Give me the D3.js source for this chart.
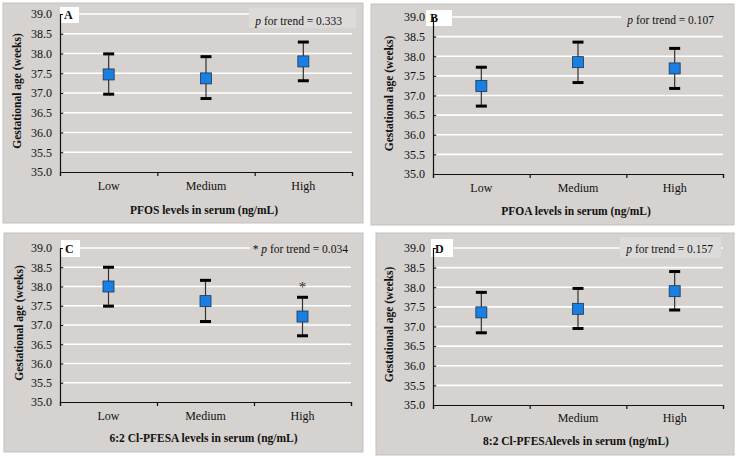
<!DOCTYPE html>
<html>
<head>
<meta charset="utf-8">
<script src="https://cdn.jsdelivr.net/npm/d3@7"></script>
<style>
  body { margin: 0; background: #fff; }
  text { font-family: "Liberation Serif", "Times New Roman", serif; }
</style>
</head>
<body>
<svg id="chart" width="736" height="456"></svg>
<script>
// values (weeks)
var categories = ["Low", "Medium", "High"];
var yTicks = [35.0, 35.5, 36.0, 36.5, 37.0, 37.5, 38.0, 38.5, 39.0];

var meanA = [37.47, 37.37, 37.80], lowA = [36.97, 36.86, 37.31], highA = [37.99, 37.92, 38.29];
var meanB = [37.24, 37.85, 37.69], lowB = [36.73, 37.33, 37.18], highB = [37.72, 38.36, 38.20];
var meanC = [38.00, 37.62, 37.22], lowC = [37.49, 37.09, 36.72], highC = [38.50, 38.16, 37.72];
var meanD = [37.36, 37.45, 37.90], lowD = [36.84, 36.95, 37.42], highD = [37.87, 37.97, 38.40];

var letters = ["A", "B", "C", "D"];
var xTitles = ["PFOS levels in serum (ng/mL)", "PFOA levels in serum (ng/mL)",
               "6:2 Cl-PFESA levels in serum (ng/mL)", "8:2 Cl-PFESAlevels in serum (ng/mL)"];
var pValues = ["0.333", "0.107", "0.034", "0.157"];
var starred = [false, false, true, false];

// panel layout
var panels = [
    {bg: [3, 3, 360, 220], x0: 60, x1: 352, y0: 14, y1: 172, cat: 190, title: 214, yl: 17,
     lbox: [60, 7, 19, 16], pbox: [249, 8, 107, 20, "#dddbd9"], pEnd: 342, pY: 25},
    {bg: [371, 4, 363, 221], x0: 433, x1: 723, y0: 17, y1: 174, cat: 192, title: 215, yl: 389,
     lbox: [426, 10, 26, 16], pbox: [621, 8, 102, 20, "#d5d2cf"], pEnd: 714, pY: 24},
    {bg: [4, 233, 359, 219], x0: 60, x1: 351, y0: 248, y1: 402, cat: 420, title: 442, yl: 19,
     lbox: [61, 240, 19, 17], pbox: [250, 239, 101, 20, "#d5d2cf"], pEnd: 348, pY: 253},
    {bg: [376, 233, 358, 222], x0: 433, x1: 723, y0: 248, y1: 405, cat: 422, title: 445, yl: 389,
     lbox: [431, 239, 22, 18], pbox: [620, 237, 101, 21, "#dddbd9"], pEnd: 713, pY: 253}
];
var means = [meanA, meanB, meanC, meanD];
var lows = [lowA, lowB, lowC, lowD];
var highs = [highA, highB, highC, highD];

var svg = d3.select("#chart");

panels.forEach(function(p, i) {
    var g = svg.append("g");

    g.append("rect")
        .attr("x", p.bg[0]).attr("y", p.bg[1])
        .attr("width", p.bg[2]).attr("height", p.bg[3])
        .attr("fill", "#d5d2cf")
        .attr("stroke", "#c4c1be").attr("stroke-width", 1);

    var y = d3.scaleLinear().domain([35, 39]).range([p.y1, p.y0]);
    var x = d3.scaleBand().domain(categories).range([p.x0, p.x1]);

    // gridlines
    g.selectAll(".grid")
        .data(yTicks.slice(1))
        .enter()
        .append("line")
        .attr("x1", p.x0 + 4).attr("x2", p.x1)
        .attr("y1", function(d) { return y(d); })
        .attr("y2", function(d) { return y(d); })
        .attr("stroke", "#fff").attr("stroke-width", 1.6);

    // p for trend box and text
    g.append("rect")
        .attr("x", p.pbox[0]).attr("y", p.pbox[1])
        .attr("width", p.pbox[2]).attr("height", p.pbox[3])
        .attr("fill", p.pbox[4]);

    var pt = g.append("text")
        .attr("x", p.pEnd).attr("y", p.pY)
        .attr("text-anchor", "end")
        .attr("font-size", 11.5)
        .attr("fill", "#111");
    if (starred[i]) pt.append("tspan").text("* ");
    pt.append("tspan").attr("font-style", "italic").text("p");
    pt.append("tspan").text(" for trend = " + pValues[i]);

    // letter box
    g.append("rect")
        .attr("x", p.lbox[0]).attr("y", p.lbox[1])
        .attr("width", p.lbox[2]).attr("height", p.lbox[3])
        .attr("fill", "#fff");
    g.append("text")
        .attr("x", p.lbox[0] + 4).attr("y", p.lbox[1] + p.lbox[3] - 4)
        .attr("font-size", 12).attr("font-weight", "bold").attr("fill", "#111")
        .text(letters[i]);

    // y axis
    var yAxis = g.append("g")
        .attr("transform", "translate(" + p.x0 + ",0)")
        .call(d3.axisLeft(y).tickValues(yTicks).tickSize(-3).tickPadding(8)
            .tickFormat(d3.format(".1f")));
    yAxis.select(".domain").attr("stroke", "#111").attr("stroke-width", 1.2);
    yAxis.selectAll(".tick line").attr("stroke", "#111");
    yAxis.selectAll("text")
        .attr("font-size", 12).attr("fill", "#111")
        .style("font-family", "'Liberation Serif', serif");

    // x axis: baseline with boundary ticks
    var bounds = d3.scaleLinear().domain([0, 3]).range([p.x0, p.x1]);
    var xAxis = g.append("g")
        .attr("transform", "translate(0," + p.y1 + ")")
        .call(d3.axisBottom(bounds).tickValues([0, 1, 2, 3]).tickSize(4).tickSizeOuter(4)
            .tickFormat(""));
    xAxis.select(".domain").attr("stroke", "#111").attr("stroke-width", 1.2);
    xAxis.selectAll(".tick line").attr("stroke", "#111").attr("stroke-width", 1.2);

    g.selectAll(".cat")
        .data(categories)
        .enter()
        .append("text")
        .attr("x", function(d) { return x(d) + x.bandwidth() / 2; })
        .attr("y", p.cat)
        .attr("text-anchor", "middle")
        .attr("font-size", 12).attr("fill", "#111")
        .text(function(d) { return d; });

    g.append("text")
        .attr("x", (p.x0 + p.x1) / 2 - 2).attr("y", p.title)
        .attr("text-anchor", "middle")
        .attr("font-size", 11.5).attr("font-weight", "bold").attr("fill", "#111")
        .text(xTitles[i]);

    g.append("text")
        .attr("transform", "translate(" + p.yl + "," + ((p.y0 + p.y1) / 2 - 2) + ") rotate(-90)")
        .attr("dy", "0.35em")
        .attr("text-anchor", "middle")
        .attr("font-size", 11.5).attr("font-weight", "bold").attr("fill", "#111")
        .text("Gestational age (weeks)");

    // error bars and markers
    var rows = categories.map(function(c, k) {
        return {cat: c, mean: means[i][k], lo: lows[i][k], hi: highs[i][k]};
    });
    var cx = function(d) { return x(d.cat) + x.bandwidth() / 2; };

    var eb = g.selectAll(".eb").data(rows).enter().append("g");
    eb.append("line")
        .attr("x1", cx).attr("x2", cx)
        .attr("y1", function(d) { return y(d.lo); })
        .attr("y2", function(d) { return y(d.hi); })
        .attr("stroke", "#333").attr("stroke-width", 1.2);
    ["lo", "hi"].forEach(function(k) {
        eb.append("line")
            .attr("x1", function(d) { return cx(d) - 5.5; })
            .attr("x2", function(d) { return cx(d) + 5.5; })
            .attr("y1", function(d) { return y(d[k]); })
            .attr("y2", function(d) { return y(d[k]); })
            .attr("stroke", "#000").attr("stroke-width", 3);
    });
    eb.append("rect")
        .attr("x", function(d) { return cx(d) - 5.5; })
        .attr("y", function(d) { return y(d.mean) - 5.5; })
        .attr("width", 11).attr("height", 11)
        .attr("fill", "#1a7fe2")
        .attr("stroke", "#1c3550").attr("stroke-width", 0.8);

    if (starred[i]) {
        var last = rows[rows.length - 1];
        g.append("text")
            .attr("x", cx(last)).attr("y", y(last.hi) - 5)
            .attr("text-anchor", "middle")
            .attr("font-size", 15).attr("fill", "#3a2a1c")
            .text("*");
    }
});
</script>
</body>
</html>
